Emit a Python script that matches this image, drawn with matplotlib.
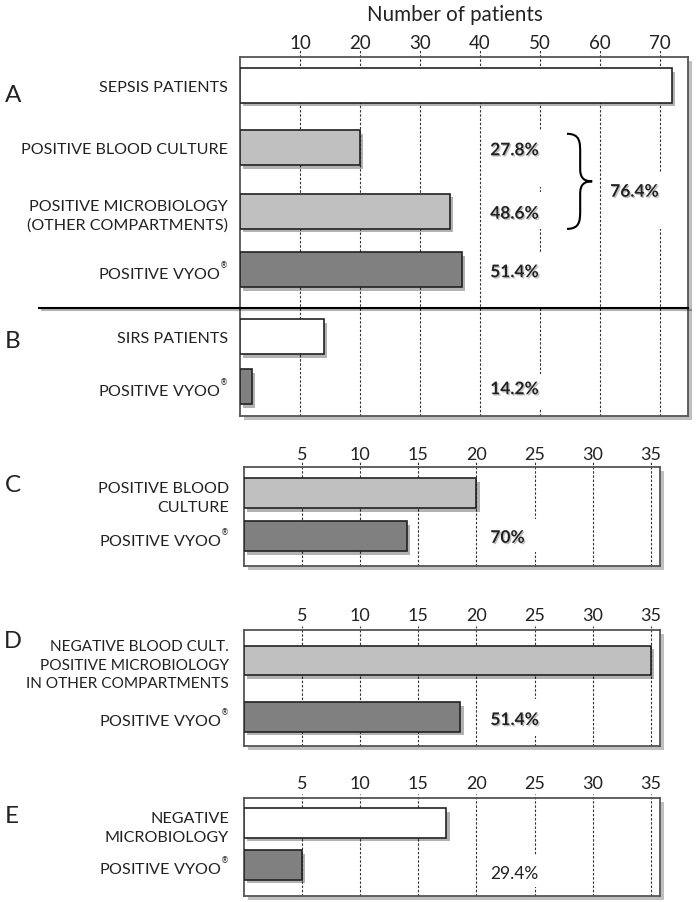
import matplotlib.pyplot as plt
import matplotlib.patheffects as pe
from matplotlib.patches import Rectangle, PathPatch
from matplotlib.path import Path

plt.rcParams['font.family'] = ['Lato', 'DejaVu Sans']
plt.rcParams['mathtext.fontset'] = 'dejavusans'

W, H = 700, 903
VYOO = 'POSITIVE VYOO${}^{{}^{\\circledR}}$'
WHITE, LIGHT, DARK = '#ffffff', '#c0c0c0', '#808080'

# panel A + B (shared axis)
ab_labels = ['SEPSIS PATIENTS', 'POSITIVE BLOOD CULTURE',
             'POSITIVE MICROBIOLOGY\n(OTHER COMPARTMENTS)', VYOO,
             'SIRS PATIENTS', VYOO]
ab_values = [72, 20, 35, 37, 14, 2]
ab_colors = [WHITE, LIGHT, LIGHT, DARK, WHITE, DARK]
ab_pct = {1: '27.8%', 2: '48.6%', 3: '51.4%', 5: '14.2%'}
ab_total = '76.4%'
ab_ticks = [10, 20, 30, 40, 50, 60, 70]

# panel C
c_labels = ['POSITIVE BLOOD\nCULTURE', VYOO]
c_values = [20, 14]
c_colors = [LIGHT, DARK]
c_pct = '70%'

# panel D
d_labels = ['NEGATIVE BLOOD CULT.\nPOSITIVE MICROBIOLOGY\nIN OTHER COMPARTMENTS', VYOO]
d_values = [35, 18.6]
d_colors = [LIGHT, DARK]
d_pct = '51.4%'

# panel E
e_labels = ['NEGATIVE\nMICROBIOLOGY', VYOO]
e_values = [17.4, 5]
e_colors = [WHITE, DARK]
e_pct = '29.4%'

cde_ticks = [5, 10, 15, 20, 25, 30, 35]

fig = plt.figure(figsize=(W / 100, H / 100), dpi=100)

bar_fx = [pe.SimplePatchShadow(offset=(2.5, -2.5), shadow_rgbFace='k', alpha=0.3), pe.Normal()]
txt_fx = [pe.SimplePatchShadow(offset=(1, -1), shadow_rgbFace='k', alpha=0.25), pe.Normal()]


def px_axes(left, top, right, bottom):
    return fig.add_axes([left / W, 1 - bottom / H, (right - left) / W, (bottom - top) / H])


def setup(ax, pos, labels, values, colors, height, xmax, ylim, ticks, tick_fs, pad, lab_pad, top_ext):
    ax.set_xlim(0, xmax)
    ax.set_ylim(*ylim)
    for t in ticks:
        ax.axvline(t, ymin=0, ymax=1 + top_ext, color='#333333', lw=0.8,
                   ls=(0, (2.2, 1.6)), zorder=1, clip_on=False)
    bars = ax.barh(pos, values, height=height, color=colors, edgecolor='#222222',
                   linewidth=1.2, zorder=3)
    for b in bars:
        b.set_path_effects(bar_fx)
    ax.xaxis.tick_top()
    ax.set_xticks(ticks)
    ax.set_xticklabels([str(t) for t in ticks], fontsize=tick_fs)
    ax.tick_params(axis='x', length=0, pad=pad, colors='#222222')
    ax.set_yticks(pos)
    ax.set_yticklabels(labels, fontsize=11.6, linespacing=1.45)
    ax.tick_params(axis='y', length=0, pad=lab_pad, colors='#222222')
    for s in ax.spines.values():
        s.set_color('#555555')
        s.set_linewidth(1.3)
    ax.patch.set_path_effects([pe.SimplePatchShadow(offset=(3, -3), shadow_rgbFace='k', alpha=0.25),
                               pe.Normal()])


def gap(ax, x, y0, y1, w=1.0):
    ax.add_patch(Rectangle((x - w, y0), 2 * w, y1 - y0, fc='white', ec='none', zorder=1.5))


# ---- A + B ----
ax = px_axes(240, 58, 688, 417)
ab_pos = [0.47, 1.49, 2.53, 3.49, 4.59, 5.41]
setup(ax, ab_pos, ab_labels, ab_values, ab_colors, 0.57, 74.67, (5.89, 0), ab_ticks, 13.5, 4.5, 8.5, 0.022)
for i, txt in ab_pct.items():
    ax.text(41.7, ab_pos[i] + 0.04, txt, fontsize=12.5, fontweight='bold', va='center',
            ha='left', color='#222222', zorder=4, path_effects=txt_fx)
gap(ax, 50, 1.21, 2.13)
gap(ax, 50, 2.21, 2.82)
gap(ax, 50, 3.2, 4.11)
gap(ax, 50, 5.2, 5.77)
gap(ax, 70, 1.89, 2.82)
ax.text(61.7, 2.21, ab_total, fontsize=12.5, fontweight='bold', va='center', ha='left',
        color='#222222', zorder=4, path_effects=txt_fx)
brace = Path([(54.5, 1.26), (56.7, 1.26), (56.7, 1.40), (56.7, 1.58),
              (56.7, 1.84),
              (56.7, 1.99), (57.4, 2.04), (58.7, 2.04),
              (57.4, 2.04), (56.7, 2.09), (56.7, 2.24),
              (56.7, 2.50),
              (56.7, 2.68), (56.7, 2.82), (54.5, 2.82)],
             [Path.MOVETO, Path.CURVE4, Path.CURVE4, Path.CURVE4,
              Path.LINETO,
              Path.CURVE4, Path.CURVE4, Path.CURVE4,
              Path.CURVE4, Path.CURVE4, Path.CURVE4,
              Path.LINETO,
              Path.CURVE4, Path.CURVE4, Path.CURVE4])
ax.add_patch(PathPatch(brace, fc='none', ec='black', lw=1.5, zorder=4))
ax.axhline(4.11, xmin=-0.449, xmax=1, color='black', lw=1.5, zorder=4, clip_on=False,
           path_effects=[pe.SimpleLineShadow(offset=(2, -2), alpha=0.3), pe.Normal()])
fig.text(455 / W, 1 - 15 / H, 'Number of patients', fontsize=14.8, ha='center', va='center',
         color='#222222')
fig.text(5 / W, 1 - 96 / H, 'A', fontsize=17.5, ha='left', va='center', color='#222222')
fig.text(5 / W, 1 - 342 / H, 'B', fontsize=17.5, ha='left', va='center', color='#222222')

# ---- C ----
ax = px_axes(243.8, 468, 660, 567)
setup(ax, [0, 1], c_labels, c_values, c_colors, 0.69, 35.79, (1.68, -0.6), cde_ticks, 13, 3.5, 10.5, 0.05)
ax.text(21.2, 1.03, c_pct, fontsize=12.5, fontweight='bold', va='center', ha='left',
        color='#222222', zorder=4, path_effects=txt_fx)
gap(ax, 25, 0.6, 1.36, 0.8)
fig.text(5 / W, 1 - 486 / H, 'C', fontsize=17.5, ha='left', va='center', color='#222222')

# ---- D ----
ax = px_axes(243.8, 631, 660, 747)
setup(ax, [0, 1], d_labels, d_values, d_colors, 0.52, 35.79, (1.51, -0.54), cde_ticks, 13, 5, 10.5, 0.035)
ax.get_yticklabels()[0].set_fontsize(11.1)
ax.text(21.2, 1.05, d_pct, fontsize=12.5, fontweight='bold', va='center', ha='left',
        color='#222222', zorder=4, path_effects=txt_fx)
gap(ax, 25, 0.68, 1.34, 0.8)
fig.text(4 / W, 1 - 642 / H, 'D', fontsize=17, ha='left', va='center', color='#222222')

# ---- E ----
ax = px_axes(243.8, 799, 660, 897)
setup(ax, [0, 1], e_labels, e_values, e_colors, 0.71, 35.79, (1.74, -0.6), cde_ticks, 13, 5, 10.5, 0.04)
ax.text(21.2, 1.2, e_pct, fontsize=12.5, va='center', ha='left', color='#222222', zorder=4)
gap(ax, 25, 0.76, 1.52, 0.8)
fig.text(5 / W, 1 - 817 / H, 'E', fontsize=17.5, ha='left', va='center', color='#222222')

fig.savefig('out.png', dpi=100)
